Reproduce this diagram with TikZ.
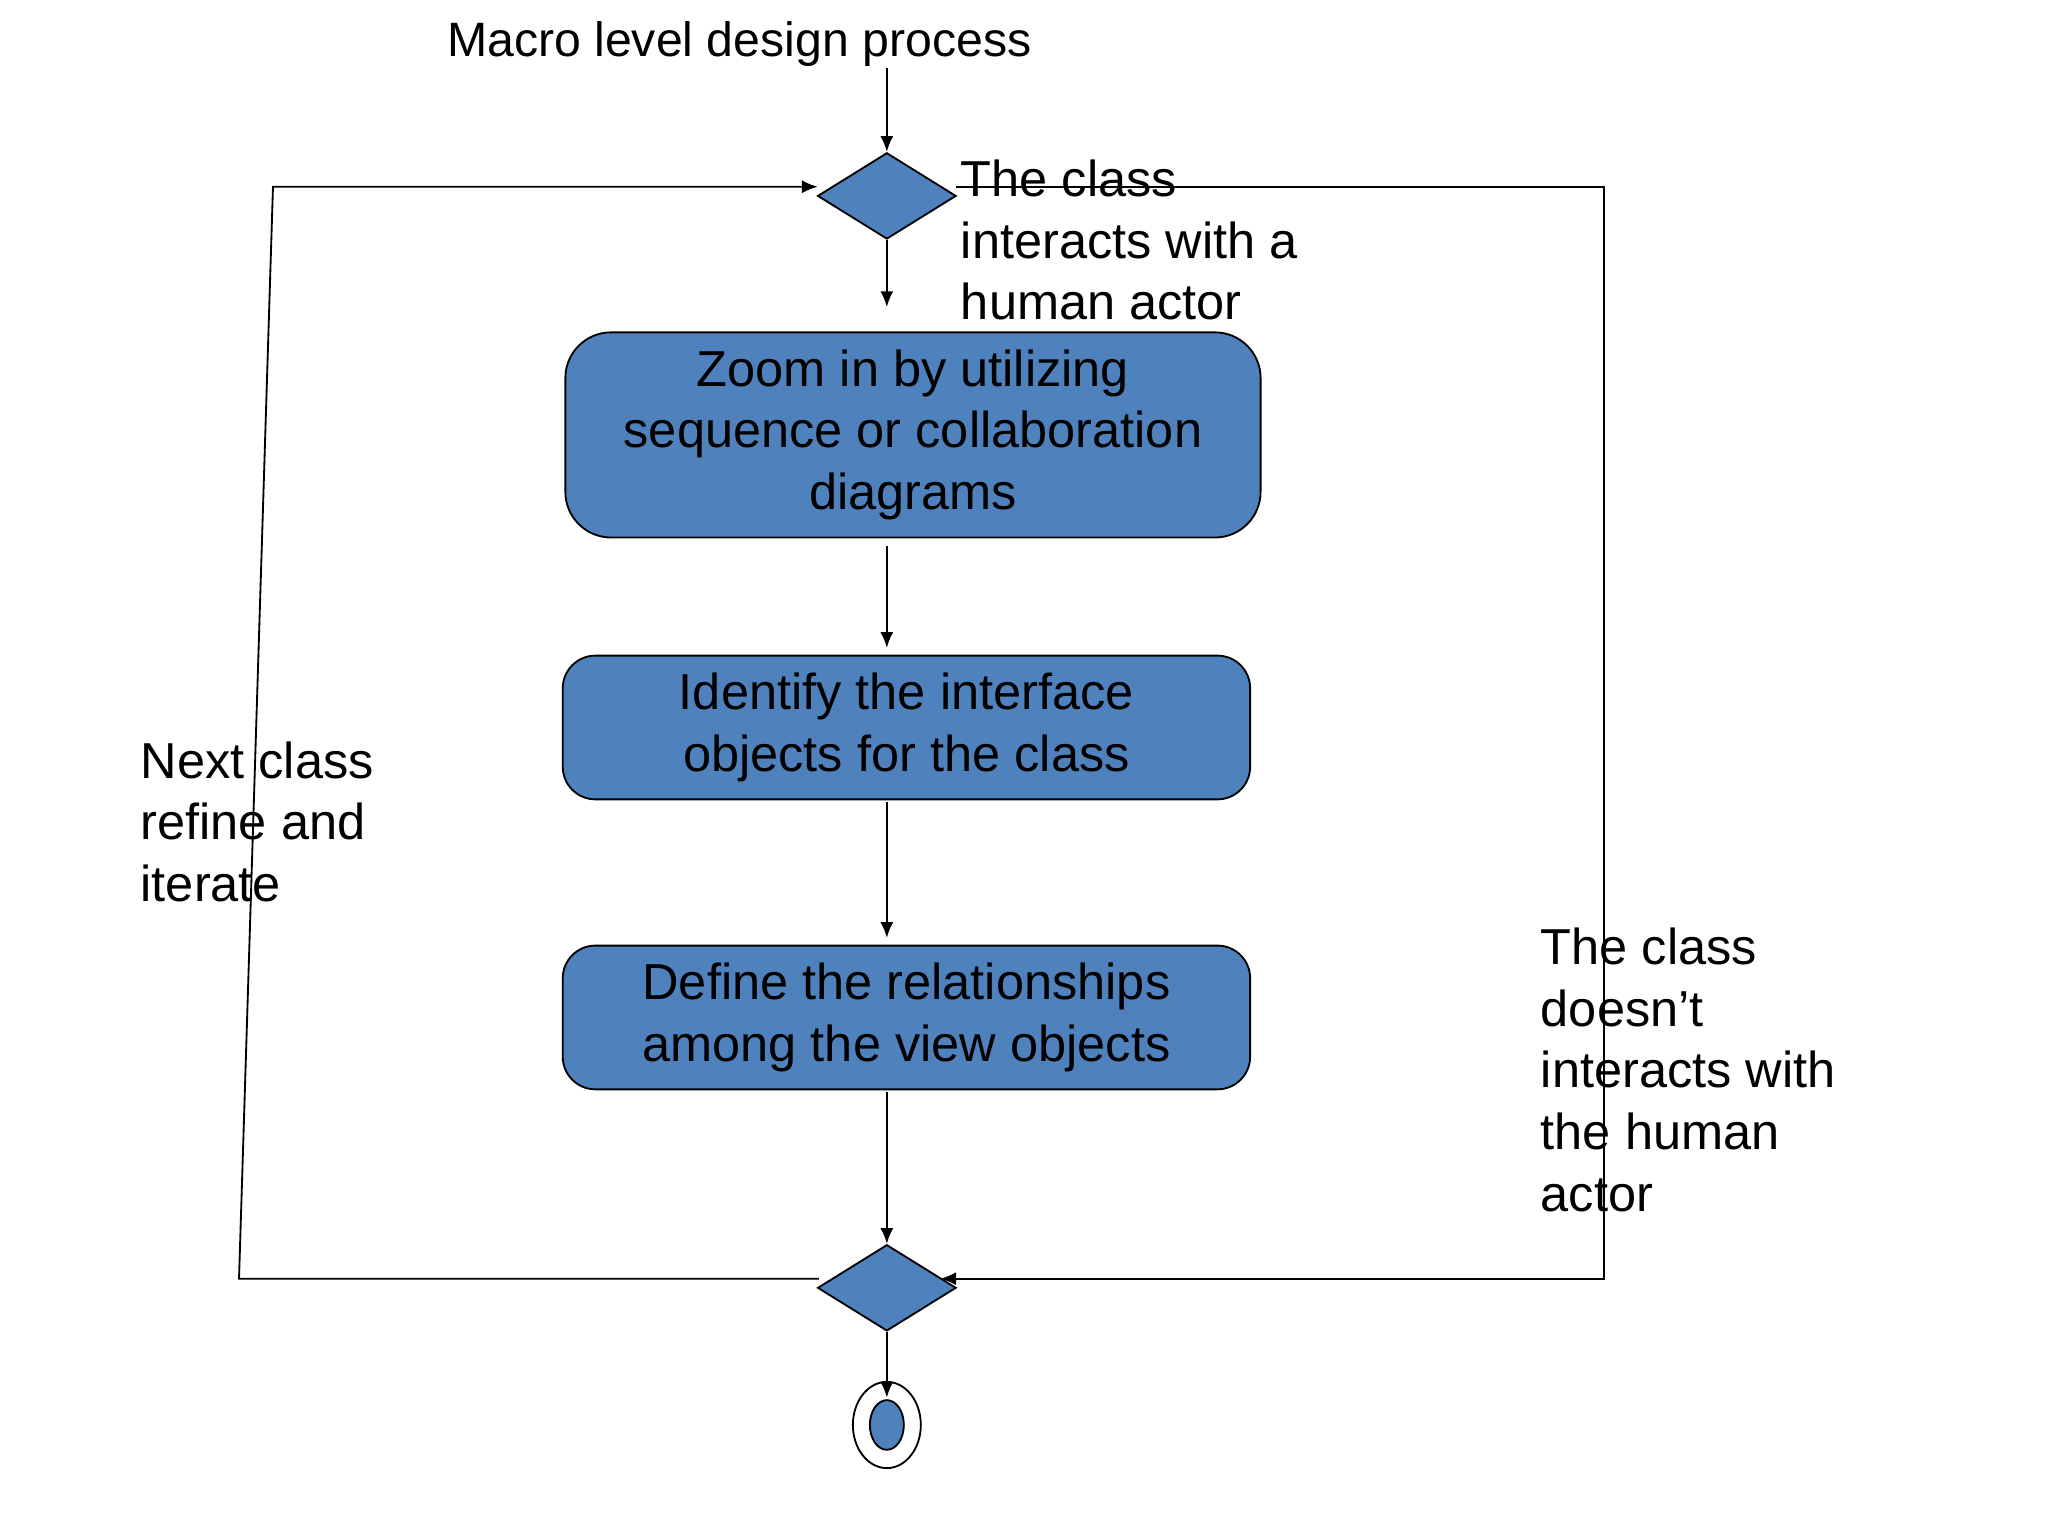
\documentclass[tikz,border=0pt]{standalone}
\usepackage{fontspec}
\setmainfont{Liberation Sans}
\usetikzlibrary{shapes.geometric,arrows.meta}
\definecolor{bl}{HTML}{4F81BD}
\begin{document}
\begin{tikzpicture}[x=0.01cm,y=-0.01cm,
  box/.style={draw=black,fill=bl,rounded corners=0.35cm,align=center,inner sep=0pt,font=\fontsize{11}{13.4}\selectfont},
  dia/.style={draw=black,fill=bl,diamond,inner sep=0pt,minimum width=1.06cm,minimum height=0.66cm,aspect=1.6},
  lab/.style={align=left,anchor=north west,inner sep=0pt,font=\fontsize{11}{13.4}\selectfont},
  arr/.style={-{Latex[length=0.12cm,width=0.1cm]},line width=0.4pt}]
\useasboundingbox (0,0) rectangle (1568,1176);
\fill[white] (0,0) rectangle (1568,1176);
\node[font=\fontsize{10.5}{13}\selectfont] (t) at (566,34) {Macro level design process};
\coordinate (tt) at (679,52);
\node[dia] (d1) at (679,150) {};
\coordinate (e1) at (679,235);
\node[box,minimum width=5.32cm,minimum height=1.57cm] (b1) at (699,333) {Zoom in by utilizing\\sequence or collaboration\\diagrams};
\coordinate (s2) at (679,418);
\coordinate (e2) at (679,496);
\node[box,minimum width=5.26cm,minimum height=1.10cm,rounded corners=0.25cm] (b2) at (694,557) {Identify the interface\\objects for the class};
\coordinate (s3) at (679,614);
\coordinate (e3) at (679,718);
\node[box,minimum width=5.26cm,minimum height=1.10cm,rounded corners=0.25cm] (b3) at (694,779) {Define the relationships\\among the view objects};
\coordinate (s4) at (679,836);
\node[dia] (d2) at (679,986) {};
\coordinate (e5) at (679,1070);
\node[draw=black,ellipse,minimum width=0.52cm,minimum height=0.66cm,inner sep=0pt] (f) at (679,1091) {};
\node[draw=black,fill=bl,ellipse,minimum width=0.26cm,minimum height=0.38cm,inner sep=0pt] (fi) at (679,1091) {};
\draw[arr] (tt) -- (d1.north);
\draw[arr] (d1.south) -- (e1);
\draw[arr] (s2) -- (e2);
\draw[arr] (s3) -- (e3);
\draw[arr] (s4) -- (d2.north);
\draw[arr] (d2.south) -- (e5);
\coordinate (l1) at (627,979);
\coordinate (l2) at (183,979);
\coordinate (l3) at (209,143);
\coordinate (l4) at (626,143);
\draw[arr] (l1) -- (l2) -- (l3) -- (l4);
\coordinate (r1) at (732,143);
\coordinate (r2) at (1228,143);
\coordinate (r3) at (1228,979);
\coordinate (r4) at (720,979);
\draw[arr] (r1) -- (r2) -- (r3) -- (r4);
\node[lab] (la) at (735,122) {The class\\interacts with a\\human actor};
\node[lab] (lb) at (107,567) {Next class\\refine and\\iterate};
\node[lab] (lc) at (1179,710) {The class\\doesn’t\\interacts with\\the human\\actor};
\end{tikzpicture}
\end{document}
